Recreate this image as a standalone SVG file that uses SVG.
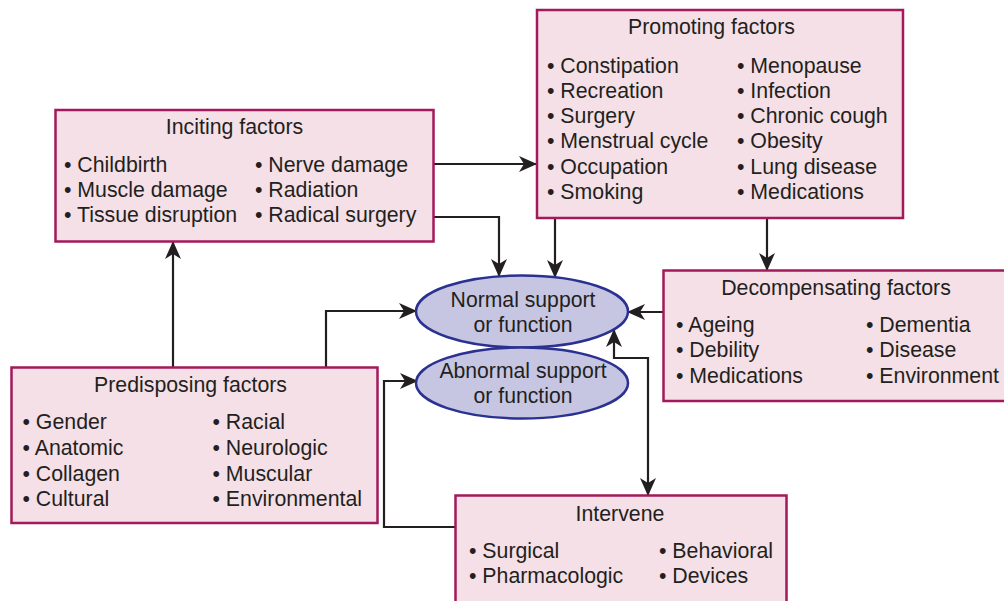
<svg xmlns="http://www.w3.org/2000/svg" width="1004" height="601" viewBox="0 0 1004 601">
  <style>
    .box { fill: #f4e0e6; stroke: #a3195b; stroke-width: 2.5; }
    .oval { fill: #c6c6e3; stroke: #2b3190; stroke-width: 2.5; }
    .title { font-family: "Liberation Sans", Arial, sans-serif; font-size: 21.3px; fill: #231f20; text-anchor: middle; }
    .item { font-family: "Liberation Sans", Arial, sans-serif; font-size: 21.3px; fill: #231f20; }
    .otext { font-family: "Liberation Sans", Arial, sans-serif; font-size: 21.2px; fill: #231f20; text-anchor: middle; }
    .link { fill: none; stroke: #231f20; stroke-width: 2.2; }
  </style>
  <defs>
    <marker id="arrow" markerUnits="userSpaceOnUse" markerWidth="18" markerHeight="16" refX="17" refY="8" orient="auto-start-reverse" viewBox="0 0 18 16">
      <path d="M0,0 L18,8 L0,16 L5,8 Z" fill="#231f20"/>
    </marker>
  </defs>

  <!-- connectors -->
  <g id="connectors">
    <path class="link" d="M434,164 H536" marker-end="url(#arrow)"/>
    <path class="link" d="M434,217 H499 V276" marker-end="url(#arrow)"/>
    <path class="link" d="M555,219 V277" marker-end="url(#arrow)"/>
    <path class="link" d="M767,219 V270" marker-end="url(#arrow)"/>
    <path class="link" d="M663,312 H628" marker-end="url(#arrow)"/>
    <path class="link" d="M648,495 V358 H614 V330" marker-start="url(#arrow)" marker-end="url(#arrow)"/>
    <path class="link" d="M173,367 V242" marker-end="url(#arrow)"/>
    <path class="link" d="M326,367 V311 H416" marker-end="url(#arrow)"/>
    <path class="link" d="M455,527 H384 V381 H417" marker-end="url(#arrow)"/>
  </g>

  <!-- Promoting factors -->
  <g id="promoting">
    <rect class="box" x="537" y="10" width="366" height="208"/>
    <text class="title" x="711.5" y="34">Promoting factors</text>
    <text class="item" x="547" y="72.5">• Constipation</text>
    <text class="item" x="547" y="97.8">• Recreation</text>
    <text class="item" x="547" y="123.1">• Surgery</text>
    <text class="item" x="547" y="148.4">• Menstrual cycle</text>
    <text class="item" x="547" y="173.7">• Occupation</text>
    <text class="item" x="547" y="199">• Smoking</text>
    <text class="item" x="737" y="72.5">• Menopause</text>
    <text class="item" x="737" y="97.8">• Infection</text>
    <text class="item" x="737" y="123.1">• Chronic cough</text>
    <text class="item" x="737" y="148.4">• Obesity</text>
    <text class="item" x="737" y="173.7">• Lung disease</text>
    <text class="item" x="737" y="199">• Medications</text>
  </g>

  <!-- Inciting factors -->
  <g id="inciting">
    <rect class="box" x="55.5" y="110" width="378" height="131.5"/>
    <text class="title" x="234.5" y="133.5">Inciting factors</text>
    <text class="item" x="64" y="171.5">• Childbirth</text>
    <text class="item" x="64" y="196.7">• Muscle damage</text>
    <text class="item" x="64" y="221.8">• Tissue disruption</text>
    <text class="item" x="255" y="171.5">• Nerve damage</text>
    <text class="item" x="255" y="196.7">• Radiation</text>
    <text class="item" x="255" y="221.8">• Radical surgery</text>
  </g>

  <!-- Decompensating factors -->
  <g id="decompensating">
    <rect class="box" x="663.5" y="270.5" width="350" height="130.5"/>
    <text class="title" x="836" y="295">Decompensating factors</text>
    <text class="item" x="676" y="331.7">• Ageing</text>
    <text class="item" x="676" y="357.3">• Debility</text>
    <text class="item" x="676" y="383">• Medications</text>
    <text class="item" x="866" y="331.7">• Dementia</text>
    <text class="item" x="866" y="357.3">• Disease</text>
    <text class="item" x="866" y="383">• Environment</text>
  </g>

  <!-- Predisposing factors -->
  <g id="predisposing">
    <rect class="box" x="11.5" y="367.5" width="366" height="155.5"/>
    <text class="title" x="190.5" y="391.7">Predisposing factors</text>
    <text class="item" x="22.5" y="429.3">• Gender</text>
    <text class="item" x="22.5" y="454.9">• Anatomic</text>
    <text class="item" x="22.5" y="480.5">• Collagen</text>
    <text class="item" x="22.5" y="506.3">• Cultural</text>
    <text class="item" x="212.5" y="429.3">• Racial</text>
    <text class="item" x="212.5" y="454.9">• Neurologic</text>
    <text class="item" x="212.5" y="480.5">• Muscular</text>
    <text class="item" x="212.5" y="506.3">• Environmental</text>
  </g>

  <!-- Intervene -->
  <g id="intervene">
    <rect class="box" x="455.5" y="495.5" width="331" height="120"/>
    <text class="title" x="620" y="520.7">Intervene</text>
    <text class="item" x="469" y="558.3">• Surgical</text>
    <text class="item" x="469" y="583.3">• Pharmacologic</text>
    <text class="item" x="659" y="558.3">• Behavioral</text>
    <text class="item" x="659" y="583.3">• Devices</text>
  </g>

  <!-- Normal support or function -->
  <g id="normal">
    <ellipse class="oval" cx="522" cy="311.5" rx="106" ry="36"/>
    <text class="otext" x="523" y="307.3">Normal support</text>
    <text class="otext" x="523" y="331.7">or function</text>
  </g>

  <!-- Abnormal support or function -->
  <g id="abnormal">
    <ellipse class="oval" cx="522" cy="383" rx="106" ry="35.5"/>
    <text class="otext" x="523" y="378.3">Abnormal support</text>
    <text class="otext" x="523" y="403.3">or function</text>
  </g>
</svg>
